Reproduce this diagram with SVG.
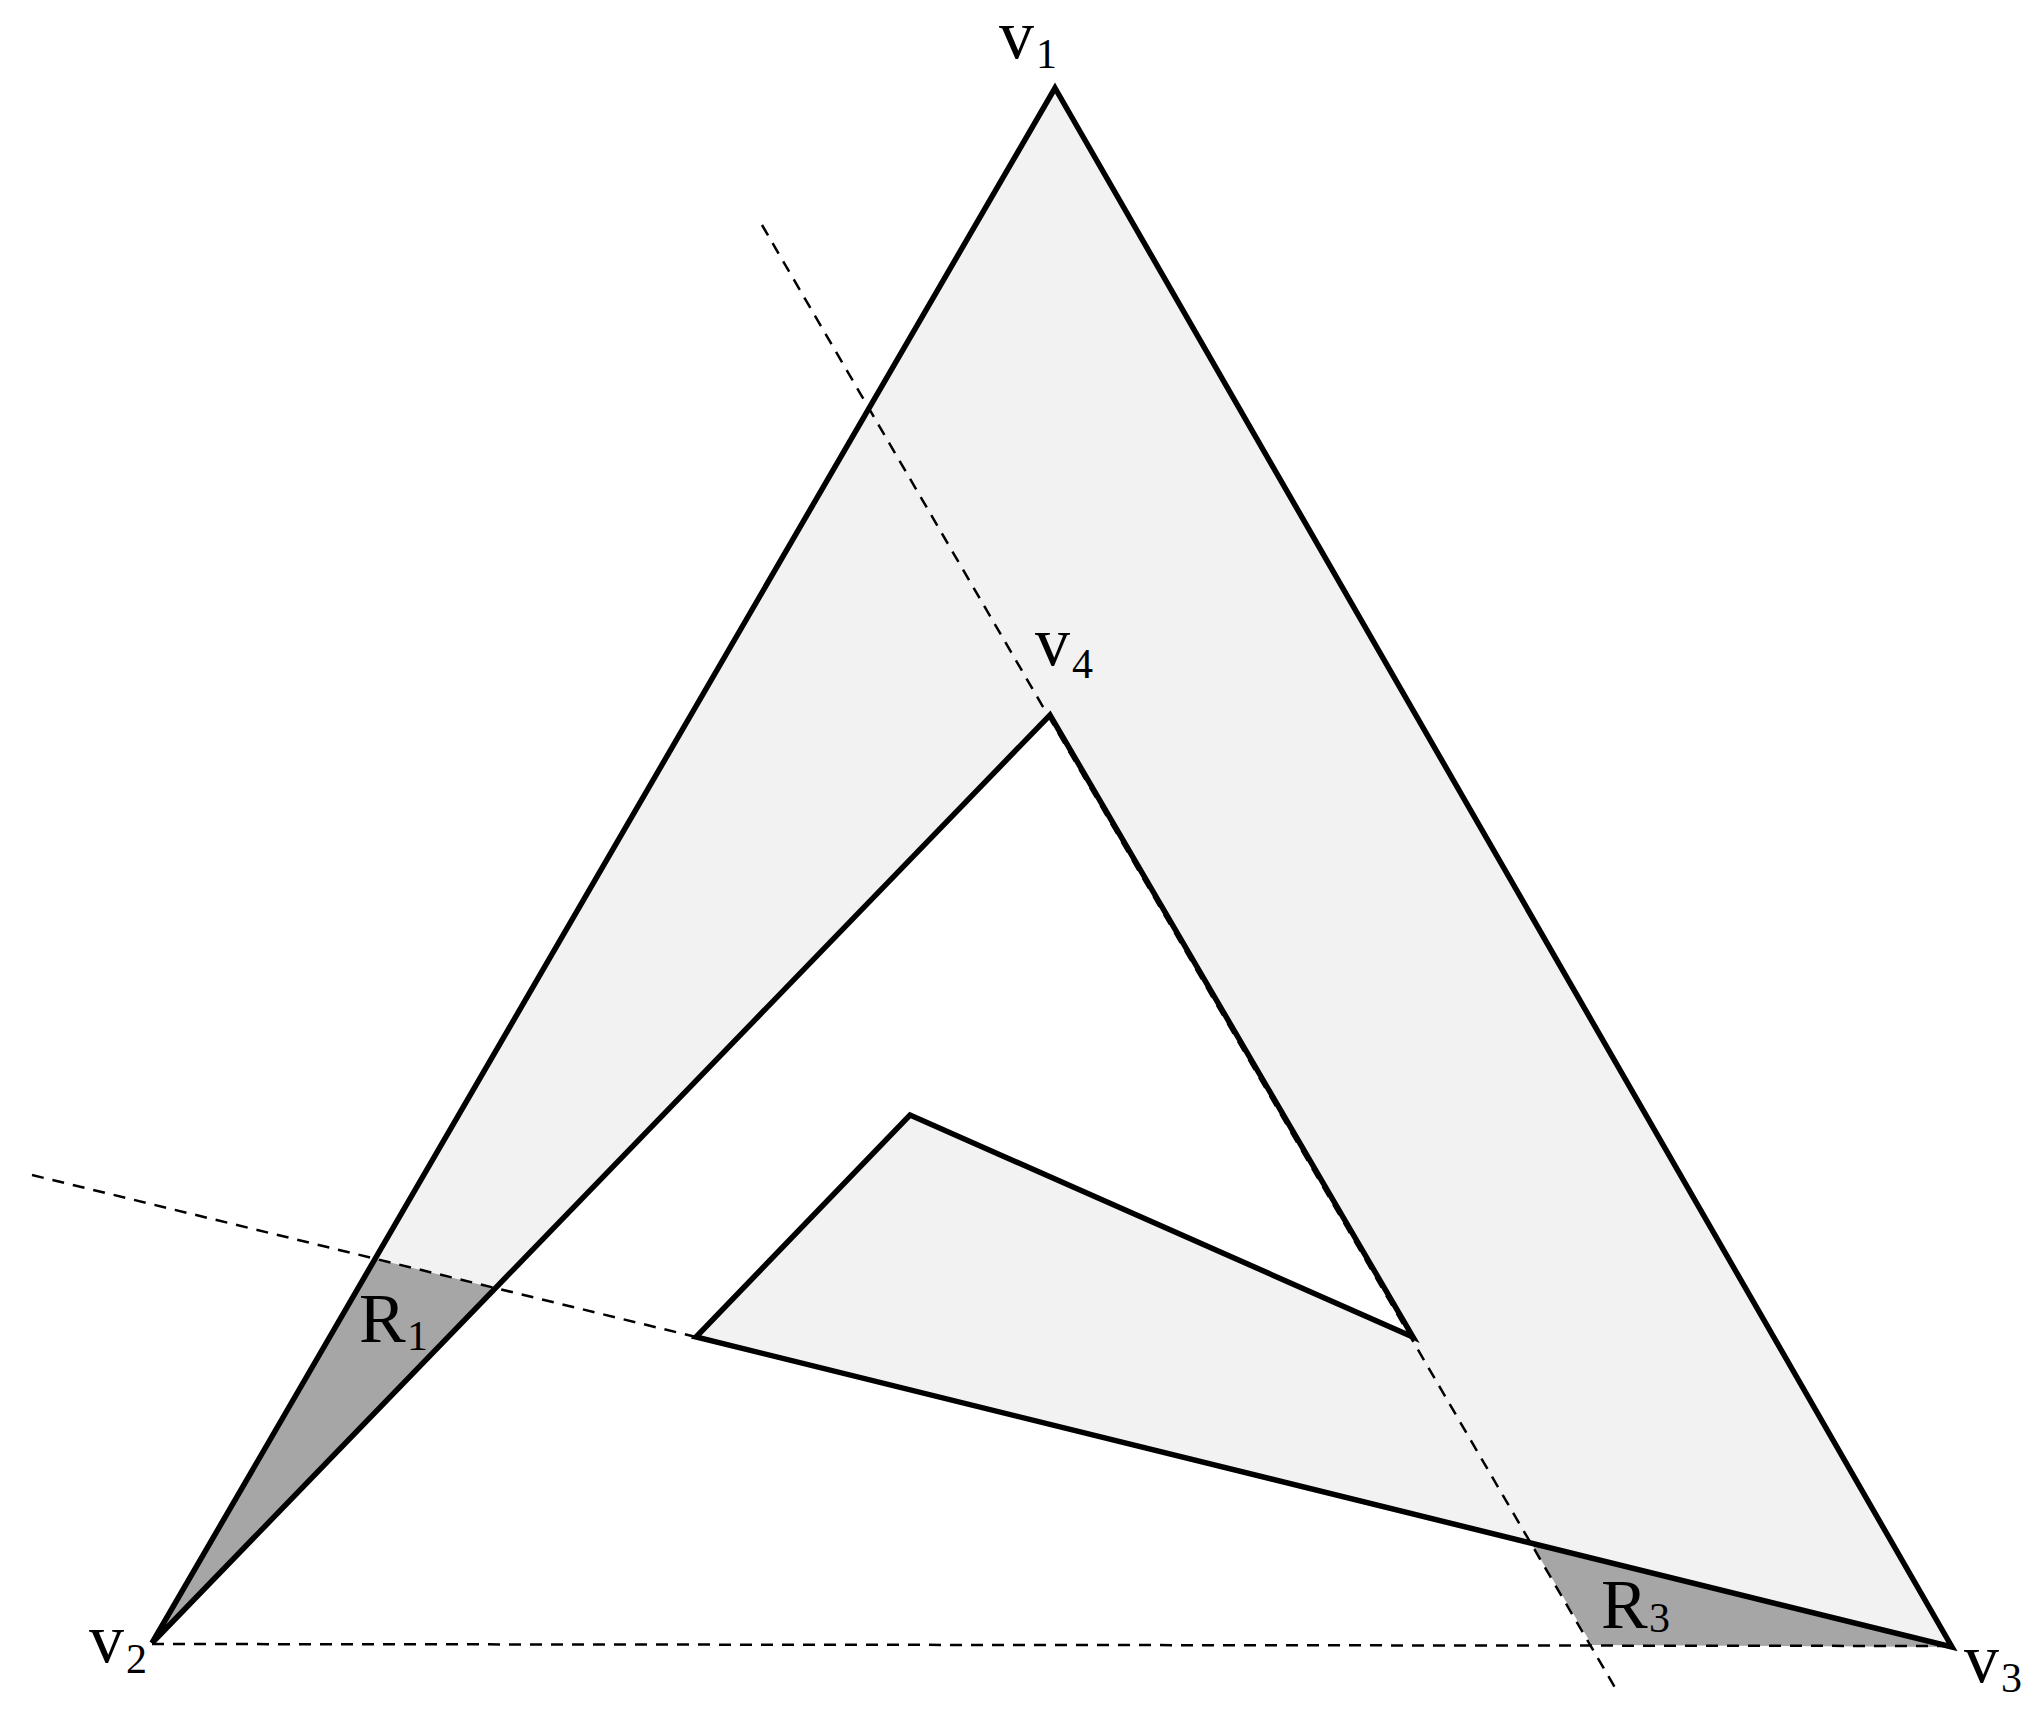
<svg xmlns="http://www.w3.org/2000/svg" width="2040" height="1717" viewBox="0 0 2040 1717">
<style>
.shape{fill:#f2f2f2;stroke:none}
.region{fill:#a6a6a6;stroke:none}
.edge{fill:none;stroke:#000;stroke-width:5.5;stroke-linejoin:miter}
.dash{fill:none;stroke:#000;stroke-width:2.5;stroke-dasharray:12 9}
.lbl{font-family:"Liberation Serif","DejaVu Serif",serif;font-size:70px;fill:#000}
.sub{font-size:42px}
</style>
<rect width="2040" height="1717" fill="#fff"/>
<g id="polygon-fill">
<polygon class="shape" points="1055,88 1952,1647 696,1337 910,1115 1413,1337 1050,715 152,1643"/>
</g>
<g id="R1">
<polygon class="region" points="152,1643 376,1259 494,1288"/>
</g>
<g id="R3">
<polygon class="region" points="1531,1543 1952,1647 1592,1645"/>
</g>
<g id="connectors">
<line class="dash" x1="762" y1="225" x2="1617" y2="1691"/>
<line class="dash" x1="32" y1="1175" x2="696" y2="1337"/>
<line class="dash" x1="152" y1="1644" x2="1952" y2="1646"/>
</g>
<g id="polygon-edges">
<polygon class="edge" points="1055,88 1952,1647 696,1337 910,1115 1413,1337 1050,715 152,1643"/>
</g>
<g id="labels">
<text class="lbl" x="999" y="58">v</text><text class="lbl sub" x="1036" y="68">1</text>
<text class="lbl" x="89" y="1662">v</text><text class="lbl sub" x="126" y="1673">2</text>
<text class="lbl" x="1964" y="1682">v</text><text class="lbl sub" x="2001" y="1692">3</text>
<text class="lbl" x="1035" y="665">v</text><text class="lbl sub" x="1072" y="678">4</text>
<text class="lbl" x="359" y="1342">R</text><text class="lbl sub" x="407" y="1350">1</text>
<text class="lbl" x="1601" y="1628">R</text><text class="lbl sub" x="1649" y="1632">3</text>
</g>
</svg>
